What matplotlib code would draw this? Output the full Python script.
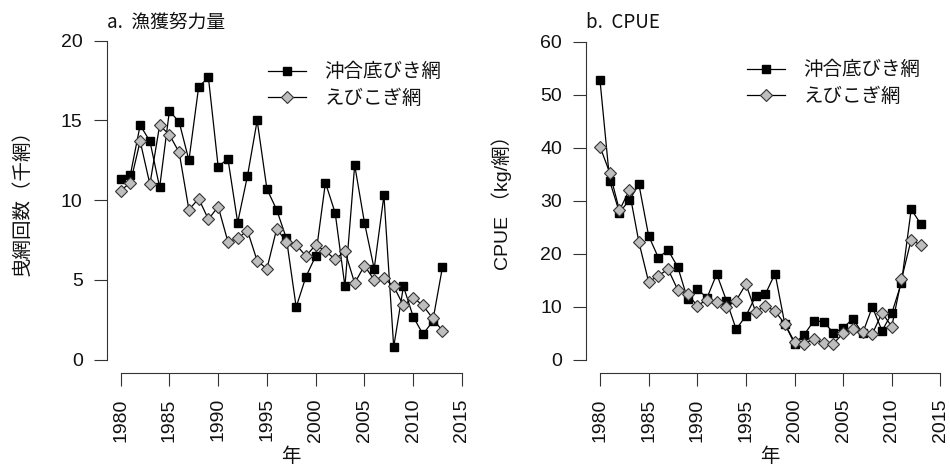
import matplotlib
matplotlib.use('Agg')
import matplotlib.pyplot as plt

plt.rcParams['font.family'] = ['Liberation Sans', 'Noto Sans CJK JP']

years = list(range(1980, 2014))

# a. 漁獲努力量 (千網)
effort_trawl = [11.3, 11.6, 14.7, 13.7, 10.8, 15.6, 14.9, 12.5, 17.1, 17.7,
                12.1, 12.6, 8.6, 11.5, 15.0, 10.7, 9.4, 7.6, 3.3, 5.2,
                6.5, 11.1, 9.2, 4.6, 12.2, 8.6, 5.7, 10.3, 0.8, 4.6,
                2.7, 1.6, 2.4, 5.8]
effort_shrimp = [10.6, 11.1, 13.7, 11.0, 14.7, 14.1, 13.0, 9.4, 10.1, 8.8,
                 9.6, 7.4, 7.6, 8.1, 6.2, 5.7, 8.2, 7.4, 7.2, 6.5,
                 7.2, 6.8, 6.3, 6.8, 4.8, 5.9, 5.0, 5.1, 4.6, 3.4,
                 3.9, 3.4, 2.6, 1.8]

# b. CPUE (kg/網)
cpue_trawl = [52.7, 33.7, 27.8, 30.1, 33.1, 23.4, 19.3, 20.7, 17.5, 11.5,
              13.4, 11.7, 16.2, 11.2, 5.8, 8.3, 12.0, 12.4, 16.3, 6.8,
              3.1, 4.8, 7.4, 7.2, 5.1, 6.0, 7.8, 5.0, 10.0, 5.5,
              8.8, 14.6, 28.4, 25.6]
cpue_shrimp = [40.2, 35.3, 28.2, 32.0, 22.2, 14.7, 15.9, 17.1, 13.2, 12.5,
               10.2, 11.4, 11.0, 10.0, 11.2, 14.3, 9.1, 10.2, 9.2, 6.8,
               3.4, 3.1, 3.9, 3.2, 3.1, 5.0, 5.8, 5.2, 4.9, 8.9,
               6.3, 15.2, 22.7, 21.6]

labels = ['沖合底びき網', 'えびこぎ網']
xticks = [1980, 1985, 1990, 1995, 2000, 2005, 2010, 2015]

W, H = 950, 466
fig = plt.figure(figsize=(W / 100, H / 100), dpi=100)


def make_panel(rect, ymax, yticks, s1, s2, title, ylabel, leg_xy, xlab_x):
    ax = fig.add_axes(rect)
    ax.plot(years, s1, color='black', lw=0.9, marker='s', ms=6.2,
            mfc='black', mec='black', label=labels[0])
    ax.plot(years, s2, color='black', lw=0.9, marker='D', ms=6.2,
            mfc='#BEBEBE', mec='#333333', mew=0.8, label=labels[1])
    pad = ymax * 0.04
    ax.set_xlim(1978.6, 2016.4)
    ax.set_ylim(-pad, ymax + pad)
    for s in ['top', 'right']:
        ax.spines[s].set_visible(False)
    for s in ['left', 'bottom']:
        ax.spines[s].set_color('#333333')
        ax.spines[s].set_linewidth(0.8)
    ax.spines['left'].set_bounds(0, ymax)
    ax.spines['bottom'].set_bounds(1980, 2015)
    ax.set_xticks(xticks)
    ax.set_xticklabels([str(x) for x in xticks], rotation=90)
    ax.set_yticks(yticks)
    ax.tick_params(length=9.5, width=0.8, color='#333333', labelsize=14,
                   labelcolor='#111111')
    ax.tick_params(axis='y', pad=8)
    ax.tick_params(axis='x', pad=9)
    # title
    x0 = rect[0]
    fig.text(x0, 1 - 22 / H, title, family=['Noto Sans CJK JP'],
             fontsize=13.5, va='center', ha='left', color='#111111')
    # y label
    fig.text(x0 - 85 / W, (H - 198) / H, ylabel, rotation=90,
             fontsize=14, va='center', ha='center', color='#111111')
    # x label
    fig.text(xlab_x / W, 1 - 457 / H, '年', family=['Noto Sans CJK JP'],
             fontsize=14, va='center', ha='center', color='#111111')
    leg = ax.legend(loc='upper left', bbox_to_anchor=(leg_xy[0] / W, 1 - leg_xy[1] / H),
                    bbox_transform=fig.transFigure, frameon=False, fontsize=14,
                    numpoints=1, handlelength=1.95, handletextpad=0.95,
                    labelspacing=0.4, borderpad=0, borderaxespad=0)
    for t in leg.get_texts():
        t.set_color('#111111')
    return ax


make_panel([107 / W, 93.5 / H, 368.6 / W, 344.6 / H], 20, [0, 5, 10, 15, 20],
           effort_trawl, effort_shrimp, 'a.  漁獲努力量', '曳網回数（千網）',
           (268, 63), 291)
make_panel([586.4 / W, 93.3 / H, 367.6 / W, 343.7 / H], 60, [0, 10, 20, 30, 40, 50, 60],
           cpue_trawl, cpue_shrimp, 'b.  CPUE', 'CPUE （kg/網）',
           (747, 61), 770)

fig.savefig('out.png', dpi=100)
